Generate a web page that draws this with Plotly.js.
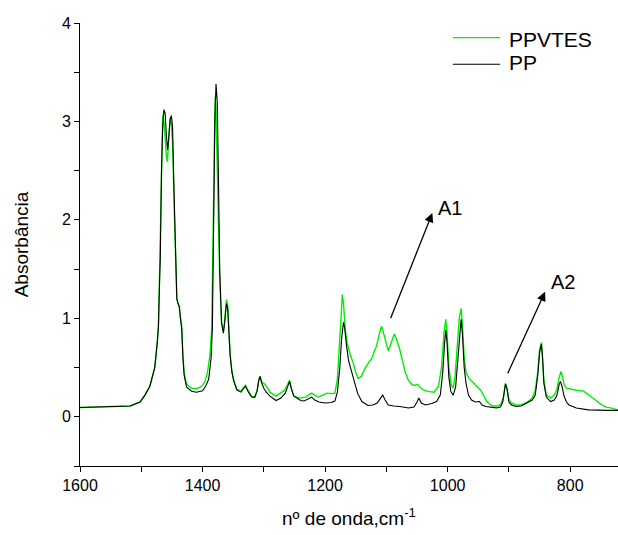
<!DOCTYPE html>
<html>
<head>
<meta charset="utf-8">
<script src="https://cdn.plot.ly/plotly-3.0.1.min.js"></script>
<style>html,body{margin:0;padding:0;background:#fff;}#chart{width:618px;height:535px;}</style>
</head>
<body>
<div id="chart"></div>
<script>
// Wavenumbers (cm-1) and absorbance, PP
const ppWavenumber = [1600,1560,1530,1518,1502,1494,1486,1478,1474,1472,1470,1469,1467,1465,1463,1461,1459,1457,1455,1453,1451,1449,1447,1445,1442,1440,1438,1436,1434,1432,1430,1426,1418,1410,1400,1395,1390,1386,1384,1382,1380,1378,1376,1374,1372,1369,1366,1364,1361,1359,1357,1355,1352,1349,1344,1337,1334,1330,1326,1320,1315,1311,1308,1306,1304,1300,1296,1290,1280,1272,1265,1261,1258,1255,1251,1246,1240,1234,1227,1222,1217,1210,1200,1190,1184,1180,1176,1173,1170,1168,1165,1162,1159,1155,1151,1147,1140,1130,1122,1115,1110,1106,1102,1097,1088,1078,1064,1055,1050,1047,1043,1036,1026,1018,1012,1008,1005,1003,1001,998,995,991,987,983,980,978,976,973,970,966,961,955,948,944,938,928,920,914,910,907,905.6,903,900,896,888,880,870,862,857,853,850,847,845,843,839,832,826,822,818,816,813,810,806,802,790,770,740,722];
const ppAbs = [0.095,0.10,0.105,0.11,0.15,0.22,0.31,0.50,0.75,0.92,1.4,1.6,2.5,2.95,3.12,3.08,2.85,2.71,2.85,3.02,3.06,2.95,2.4,1.8,1.2,1.15,1.12,1.0,0.9,0.6,0.42,0.30,0.26,0.25,0.265,0.31,0.38,0.6,0.9,1.9,3.0,3.38,3.2,2.4,1.5,0.95,0.85,0.95,1.15,1.10,0.85,0.62,0.45,0.36,0.27,0.25,0.28,0.31,0.26,0.20,0.195,0.26,0.38,0.41,0.35,0.29,0.25,0.21,0.165,0.19,0.24,0.32,0.36,0.28,0.21,0.19,0.165,0.16,0.18,0.20,0.17,0.15,0.14,0.145,0.16,0.25,0.5,0.8,0.96,0.9,0.72,0.58,0.51,0.43,0.33,0.24,0.155,0.115,0.12,0.14,0.18,0.22,0.17,0.12,0.11,0.105,0.09,0.10,0.15,0.19,0.14,0.12,0.135,0.155,0.22,0.45,0.75,0.88,0.75,0.4,0.26,0.22,0.3,0.6,0.9,0.99,0.85,0.5,0.34,0.22,0.17,0.15,0.155,0.12,0.105,0.095,0.09,0.1,0.15,0.28,0.335,0.28,0.15,0.12,0.105,0.11,0.14,0.17,0.22,0.42,0.65,0.74,0.6,0.34,0.20,0.155,0.17,0.21,0.33,0.36,0.30,0.21,0.15,0.12,0.09,0.07,0.065,0.065];

// Wavenumbers (cm-1) and absorbance, PPVTES
const ppvtesWavenumber = [1600,1560,1530,1518,1502,1494,1486,1478,1474,1472,1470,1468,1466,1465,1463,1461,1459,1457.5,1456,1454,1453,1451,1449,1447,1445,1442,1440,1438,1436,1434,1432,1430,1426,1418,1410,1404,1400,1396,1392,1388,1385,1383,1381,1379.5,1378,1376,1374,1372,1369,1366,1364,1361,1359,1357,1355,1352,1349,1344,1337,1334,1330,1326,1320,1315,1311,1308,1306,1303,1298,1294,1290,1280,1272,1266,1261,1258,1255,1251,1246,1240,1232,1226,1222,1217,1211,1204,1197,1190,1184,1180,1177,1174,1172,1170,1167,1164,1159,1154,1150,1146,1141,1135,1128,1124,1120,1116,1112,1108,1105,1100,1097,1094,1090,1087,1084,1078,1073,1069,1064,1058,1052,1049,1045,1039,1030,1022,1015,1010,1006,1003,1001,998,994,991,988,984,981,978,976,973,970,965,960,955,950,946,940,936,930,925,918,913,909,907,905.6,903,900,896,888,880,870,862,857,853,850,847,845,843,839,832,826,822,818,815,812,810,806,800,790,778,767,756,746,740,734,722];
const ppvtesAbs = [0.095,0.10,0.105,0.11,0.15,0.22,0.31,0.50,0.75,0.92,1.5,2.3,2.9,3.07,3.0,2.8,2.65,2.59,2.75,2.98,3.03,2.98,2.8,2.3,1.8,1.2,1.15,1.12,1.0,0.9,0.62,0.44,0.33,0.29,0.285,0.30,0.32,0.36,0.45,0.62,0.9,1.7,2.8,3.25,3.1,2.6,2.0,1.4,0.97,0.87,0.97,1.19,1.14,0.88,0.64,0.46,0.37,0.28,0.26,0.29,0.32,0.27,0.21,0.20,0.27,0.38,0.41,0.35,0.33,0.29,0.25,0.21,0.24,0.27,0.33,0.37,0.29,0.21,0.20,0.19,0.20,0.22,0.24,0.22,0.20,0.22,0.24,0.235,0.24,0.38,0.65,1.0,1.24,1.15,0.88,0.75,0.63,0.545,0.45,0.39,0.41,0.49,0.56,0.59,0.66,0.72,0.83,0.92,0.86,0.72,0.67,0.72,0.80,0.84,0.80,0.68,0.55,0.45,0.37,0.325,0.32,0.33,0.30,0.27,0.255,0.25,0.31,0.5,0.85,0.99,0.85,0.5,0.32,0.29,0.4,0.7,1.0,1.10,0.95,0.6,0.45,0.39,0.36,0.325,0.30,0.27,0.20,0.155,0.12,0.11,0.11,0.13,0.2,0.3,0.34,0.28,0.18,0.14,0.12,0.12,0.15,0.19,0.27,0.45,0.68,0.755,0.6,0.37,0.22,0.19,0.22,0.27,0.40,0.46,0.39,0.325,0.29,0.28,0.27,0.26,0.21,0.155,0.11,0.095,0.09,0.07];

const seriesNames = ['PPVTES', 'PP'];
const seriesColors = ['#00ee00', '#000000'];
const xTickValues = [1600, 1400, 1200, 1000, 800];
const yTickValues = [0, 1, 2, 3, 4];
// annotation arrows
const arrowLabels = ['A1', 'A2'];
const arrowHeadX = [1025, 841];
const arrowHeadY = [2.07, 1.27];
const arrowTailX = [1094, 903];
const arrowTailY = [0.985, 0.426];
const labelX = [996, 811];
const labelY = [2.12, 1.37];

const font = 'Liberation Sans, Arial, Helvetica, sans-serif';

const traces = [
  {x: ppvtesWavenumber, y: ppvtesAbs, name: seriesNames[0], type: 'scatter', mode: 'lines',
   line: {color: seriesColors[0], width: 1.4}},
  {x: ppWavenumber, y: ppAbs, name: seriesNames[1], type: 'scatter', mode: 'lines',
   line: {color: seriesColors[1], width: 1.1}}
];

const annotations = [];
for (let i = 0; i < arrowLabels.length; i++) {
  annotations.push({x: arrowHeadX[i], y: arrowHeadY[i], ax: arrowTailX[i], ay: arrowTailY[i],
    xref: 'x', yref: 'y', axref: 'x', ayref: 'y', text: '', showarrow: true,
    arrowhead: 2, arrowsize: 1.4, arrowwidth: 1.3, arrowcolor: '#000', standoff: 0, startstandoff: 0});
  annotations.push({x: labelX[i], y: labelY[i], xref: 'x', yref: 'y', text: arrowLabels[i],
    showarrow: false, font: {family: font, size: 20, color: '#000'}, xanchor: 'center', yanchor: 'middle'});
}

// manual legend (line samples + labels) in paper coordinates
const legendLineY = [0.967, 0.907];
const legendTextY = [0.963, 0.910];
const shapes = [];
for (let i = 0; i < seriesNames.length; i++) {
  shapes.push({type: 'line', xref: 'paper', yref: 'paper', x0: 0.693, x1: 0.781,
    y0: legendLineY[i], y1: legendLineY[i], line: {color: seriesColors[i], width: i === 0 ? 1.4 : 1.1}});
  annotations.push({xref: 'paper', yref: 'paper', x: 0.794, y: legendTextY[i], text: seriesNames[i],
    showarrow: false, xanchor: 'left', yanchor: 'middle', font: {family: font, size: 21, color: '#000'}});
}

const layout = {
  width: 618, height: 535,
  margin: {l: 80, r: 0, t: 23, b: 69, pad: 0},
  paper_bgcolor: '#fff', plot_bgcolor: '#fff',
  font: {family: font, color: '#000', size: 16},
  showlegend: false,
  xaxis: {range: [1600, 722], autorange: false, showline: true, linecolor: '#000', linewidth: 1,
    ticks: 'outside', ticklen: 5, tickwidth: 1, tickcolor: '#000', tickvals: xTickValues,
    ticktext: xTickValues.map(String), showgrid: false, zeroline: false,
    tickfont: {family: font, size: 16},
    minor: {ticks: 'outside', ticklen: 5, tickwidth: 1, tickcolor: '#000', dtick: 100, tick0: 0, showgrid: false},
    title: {text: 'nº de onda,cm<sup>-1</sup>', font: {family: font, size: 19}, standoff: 18}},
  yaxis: {range: [-0.5, 4], autorange: false, showline: true, linecolor: '#000', linewidth: 1,
    ticks: 'outside', ticklen: 5, tickwidth: 1, tickcolor: '#000', tickvals: yTickValues,
    ticktext: yTickValues.map(String), showgrid: false, zeroline: false,
    tickfont: {family: font, size: 16},
    minor: {ticks: 'outside', ticklen: 5, tickwidth: 1, tickcolor: '#000', dtick: 0.5, tick0: 0, showgrid: false},
    title: {text: 'Absorbância', font: {family: font, size: 19}, standoff: 28}},
  annotations: annotations,
  shapes: shapes,
  hovermode: false
};

Plotly.newPlot('chart', traces, layout, {displayModeBar: false, staticPlot: true});
</script>
</body>
</html>
